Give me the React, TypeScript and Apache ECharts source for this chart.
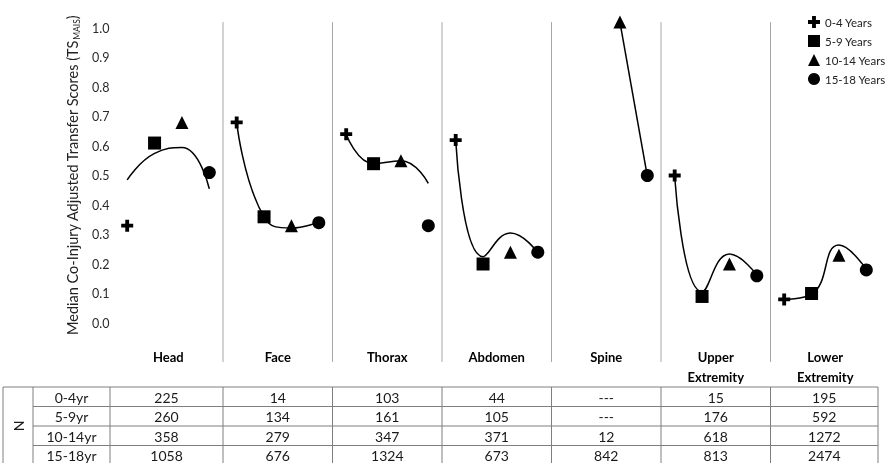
import React, { useEffect, useRef } from "react";
import * as echarts from "echarts";

const categories = ["Head", "Face", "Thorax", "Abdomen", "Spine", "Upper\nExtremity", "Lower\nExtremity"];
const ageGroups = ["0-4 Years", "5-9 Years", "10-14 Years", "15-18 Years"];

// median scores per body region
const age0to4 = [0.33, 0.68, 0.64, 0.62, null, 0.5, 0.08];
const age5to9 = [0.61, 0.36, 0.54, 0.2, null, 0.09, 0.1];
const age10to14 = [0.68, 0.33, 0.55, 0.24, 1.02, 0.2, 0.23];
const age15to18 = [0.51, 0.34, 0.33, 0.24, 0.5, 0.16, 0.18];

// smoothed trend line per body region (0-4, 5-9, 10-14, 15-18)
const trendHead = [0.485, 0.575, 0.595, 0.455];
const trendFace = [0.682, 0.359, 0.322, 0.343];
const trendThorax = [0.64, 0.54, 0.55, 0.473];
const trendAbdomen = [0.62, 0.225, 0.305, 0.238];
const trendSpine = [null, null, 1.02, 0.498];
const trendUpper = [0.496, 0.106, 0.234, 0.163];
const trendLower = [0.08, 0.098, 0.264, 0.182];

const yTicks = [0, 0.1, 0.2, 0.3, 0.4, 0.5, 0.6, 0.7, 0.8, 0.9, 1.0];

// table of N
const rowLabels = ["0-4yr", "5-9yr", "10-14yr", "15-18yr"];
const n0to4 = ["225", "14", "103", "44", "---", "15", "195"];
const n5to9 = ["260", "134", "161", "105", "---", "176", "592"];
const n10to14 = ["358", "279", "347", "371", "12", "618", "1272"];
const n15to18 = ["1058", "676", "1324", "673", "842", "813", "2474"];

const FONT = "Lato, 'Open Sans', sans-serif";
const crossPath = "path://M34,0H66V34H100V66H66V100H34V66H0V34H34Z";

export default function App() {
  const ref = useRef<HTMLDivElement>(null);
  useEffect(() => {
    if (!ref.current) return;
    const chart = echarts.init(ref.current, null, { renderer: "svg" });
    const values = [age0to4, age5to9, age10to14, age15to18];
    const trends = [trendHead, trendFace, trendThorax, trendAbdomen, trendSpine, trendUpper, trendLower];
    const symbols = [crossPath, "rect", "triangle", "circle"];
    const sizes = [12, 13, 13, 13];
    const W = 889;
    const gridLeft = 113.5;
    const gridRight = 9;
    const panelW = (W - gridLeft - gridRight) / categories.length;
    const pos = (i: number, j: number) => i + (j + 0.5) / 4;

    const scatterSeries = ageGroups.map((name, j) => ({
      type: "scatter",
      name,
      symbol: symbols[j],
      symbolSize: sizes[j],
      clip: false,
      z: 4,
      itemStyle: { color: "#000", opacity: 1 },
      data: categories
        .map((_, i) => (values[j][i] == null ? null : [pos(i, j), values[j][i]]))
        .filter((d) => d !== null),
    }));

    const lineSeries = trends.map((t, i) => ({
      type: "line",
      name: "trend" + i,
      smooth: 0.5,
      showSymbol: false,
      symbol: "none",
      clip: false,
      silent: true,
      z: 3,
      lineStyle: { color: "#000", width: 1.5 },
      data: t.map((v, j) => (v == null ? null : [pos(i, j), v])).filter((d) => d !== null),
    }));

    const sepSeries = {
      type: "custom",
      silent: true,
      clip: false,
      z: 1,
      data: categories.slice(1).map((_, i) => [i + 1, 0]),
      renderItem: (params: any, api: any) => {
        const x = api.value(0);
        const top = api.coord([x, 1.02]);
        const bot = api.coord([x, -0.132]);
        return {
          type: "line",
          shape: { x1: top[0], y1: top[1], x2: bot[0], y2: bot[1] },
          style: { stroke: "#a6a6a6", lineWidth: 1 },
        };
      },
    };

    // table graphic
    const tableTop = 387;
    const rowH = 19.5;
    const colEdges = [3, 33, 110];
    for (let i = 1; i < categories.length; i++) colEdges.push(gridLeft + i * panelW);
    colEdges.push(878);
    const rows = [n0to4, n5to9, n10to14, n15to18];
    const tableBottom = tableTop + rowH * rows.length;
    const graphics: any[] = [];
    const lineStyle = { stroke: "#7f7f7f", lineWidth: 1 };
    const tFont = `14px ${FONT}`;
    const tFill = "#1a1a1a";
    for (let r = 0; r <= rows.length; r++) {
      const y = tableTop + r * rowH;
      graphics.push({
        type: "line",
        shape: { x1: r === 0 || r === rows.length ? colEdges[0] : colEdges[1], y1: y, x2: colEdges[colEdges.length - 1], y2: y },
        style: lineStyle,
      });
    }
    colEdges.forEach((x) => {
      graphics.push({ type: "line", shape: { x1: x, y1: tableTop, x2: x, y2: tableBottom }, style: lineStyle });
    });
    graphics.push({
      type: "text",
      x: (colEdges[0] + colEdges[1]) / 2,
      y: (tableTop + tableBottom) / 2,
      rotation: Math.PI / 2,
      style: { text: "N", font: tFont, fill: tFill, align: "center", verticalAlign: "middle" },
    });
    rows.forEach((row, r) => {
      const cy = tableTop + r * rowH + rowH / 2 + 0.5;
      graphics.push({
        type: "text",
        x: (colEdges[1] + colEdges[2]) / 2,
        y: cy,
        style: { text: rowLabels[r], font: tFont, fill: tFill, align: "center", verticalAlign: "middle" },
      });
      row.forEach((v, c) => {
        graphics.push({
          type: "text",
          x: (colEdges[c + 2] + colEdges[c + 3]) / 2,
          y: cy,
          style: { text: v, font: tFont, fill: tFill, align: "center", verticalAlign: "middle" },
        });
      });
    });

    chart.setOption({
      animation: false,
      textStyle: { fontFamily: FONT },
      grid: { left: gridLeft, right: gridRight, top: 28, bottom: 140, containLabel: false },
      legend: {
        left: 803,
        top: 11,
        orient: "vertical",
        itemWidth: 12,
        itemHeight: 12,
        itemGap: 7,
        padding: [5, 0, 5, 5],
        textStyle: { fontFamily: FONT, fontSize: 11.5, color: "#222" },
        data: ageGroups.map((n, j) => ({ name: n, icon: symbols[j], itemStyle: { color: "#000", opacity: 1 } })),
      },
      xAxis: [
        {
          type: "value",
          min: 0,
          max: categories.length,
          interval: 1,
          show: false,
          splitLine: { show: false },
        },
        {
          type: "category",
          data: categories,
          position: "bottom",
          boundaryGap: true,
          axisLine: { show: false },
          axisTick: { show: false },
          splitLine: { show: false },
          axisLabel: {
            margin: 24,
            fontFamily: FONT,
            fontSize: 13,
            fontWeight: "bold",
            color: "#000",
            lineHeight: 20,
            interval: 0,
          },
        },
      ],
      yAxis: {
        type: "value",
        min: yTicks[0],
        max: yTicks[yTicks.length - 1],
        interval: 0.1,
        axisLine: { show: false },
        axisTick: { show: false },
        splitLine: { show: false },
        axisLabel: {
          margin: 4,
          fontFamily: FONT,
          fontSize: 12.5,
          color: "#2a2a2a",
          formatter: (v: number) => v.toFixed(1),
        },
        name: "{a|Median Co-Injury Adjusted Transfer Scores (TS}{s|MAIS}{a|)}",
        nameLocation: "middle",
        nameGap: 20,
        nameTextStyle: {
          rich: {
            a: { fontFamily: FONT, fontSize: 14.5, color: "#222", lineHeight: 18 },
            s: { fontFamily: FONT, fontSize: 8.5, color: "#222", lineHeight: 10, verticalAlign: "bottom" },
          },
        },
      },
      graphic: graphics,
      series: [sepSeries, ...lineSeries, ...scatterSeries],
    });
    return () => chart.dispose();
  }, []);
  return <div ref={ref} style={{ position: "fixed", left: 0, top: 0, width: 889, height: 463 }} />;
}
